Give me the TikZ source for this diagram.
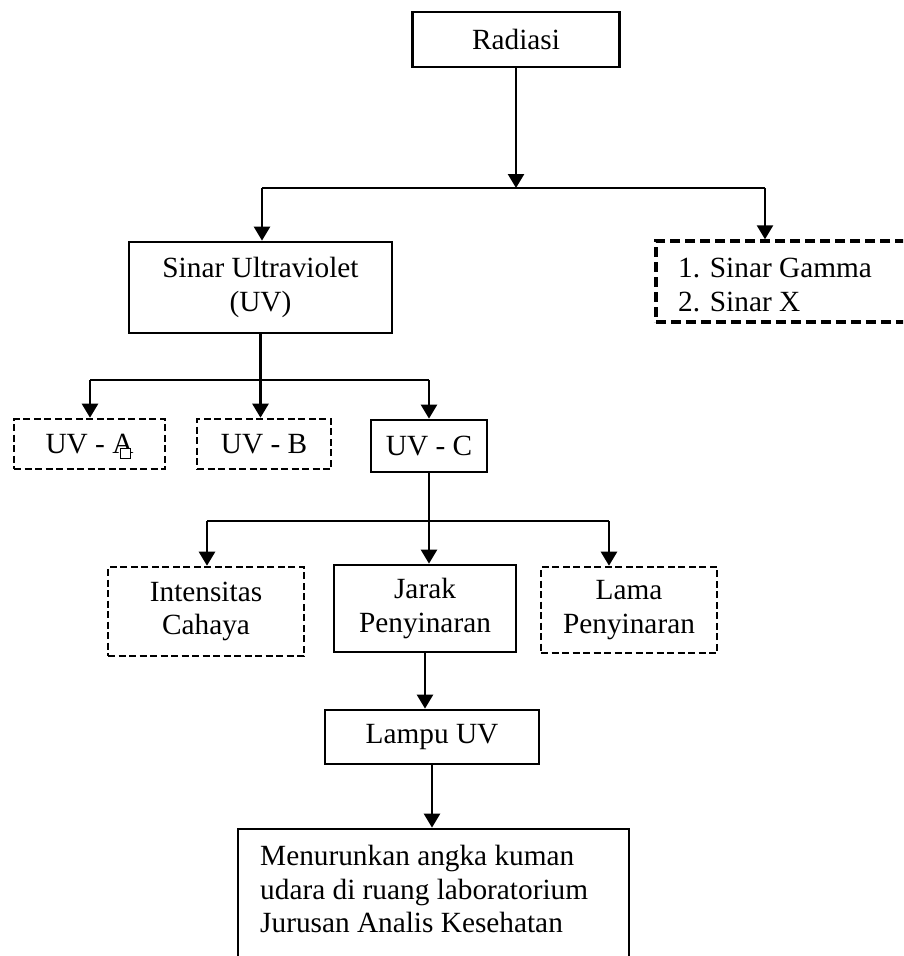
\documentclass[tikz,border=0pt]{standalone}
\usepackage{fontspec}
\setmainfont{Liberation Serif}
\usetikzlibrary{arrows.meta}
\newcommand\dfont{\fontsize{29.3}{33.5}\selectfont}
\begin{document}
\begin{tikzpicture}[x=1pt,y=-1pt,
  box/.style={draw,line width=2.8pt,align=center,inner sep=0pt,font=\dfont},
  dbox/.style={draw,line width=2.6pt,dash pattern=on 7pt off 3.5pt,align=center,inner sep=0pt,font=\dfont},
  gbox/.style={draw,line width=3.4pt,dash pattern=on 10pt off 5pt,inner sep=0pt},
  txt/.style={align=left,inner sep=0pt,font=\dfont},
  conn/.style={line width=2.5pt},
  arr/.style={conn,-{Triangle[width=16pt,length=14pt]}}]
\useasboundingbox (0,0) rectangle (903,956);

\node[box,minimum width=207pt,minimum height=55pt] (rad) at (516,39.5) {Radiasi};
\node[box,minimum width=263pt,minimum height=91pt] (uv) at (260.5,287.5) {Sinar Ultraviolet\\(UV)};

\begin{scope}
\clip (0,0) rectangle (903,956);
\node[gbox,minimum width=264pt,minimum height=81pt] (gam) at (788,281.5) {};
\node[box,minimum width=391pt,minimum height=160pt] (last) at (433.5,909) {};
\end{scope}
\node[txt,anchor=north west] (gamtxt) at (678,258) {1. Sinar Gamma\\2. Sinar X};
\node[txt,anchor=north west] (lasttxt) at (260,845) {Menurunkan angka kuman\\udara di ruang laboratorium\\Jurusan Analis Kesehatan};

\node[dbox,minimum width=151pt,minimum height=50pt] (uva) at (89.5,444) {UV - A};
\node[dbox,minimum width=134pt,minimum height=50pt] (uvb) at (264,444) {UV - B};
\node[box,minimum width=116pt,minimum height=52pt] (uvc) at (429,446) {UV - C};
\draw[line width=0.9pt,fill=white] (120,448) rectangle (130,458);

\node[dbox,minimum width=196pt,minimum height=89pt] (int) at (206,611.5) {Intensitas\\Cahaya};
\node[box,minimum width=182pt,minimum height=87pt] (jar) at (425,608.5) {Jarak\\Penyinaran};
\node[dbox,minimum width=176pt,minimum height=86pt] (lama) at (629,610) {Lama\\Penyinaran};
\node[box,minimum width=214pt,minimum height=54pt] (lamp) at (432,737) {Lampu UV};

\coordinate (hl) at (262,188);
\coordinate (hr) at (765,188);
\coordinate (ml) at (90,380);
\coordinate (mr) at (429,380);
\coordinate (ll) at (207,521);
\coordinate (lr) at (609,521);

\draw[arr] (rad.south) -- (rad.south |- hl);
\draw[conn] (hl) -- (hr);
\draw[arr] (hl) -- (hl |- uv.north);
\draw[arr] (hr) -- (hr |- gam.north);

\draw[arr] (uv.south) -- (uv.south |- uvb.north);
\draw[conn] (ml) -- (mr);
\draw[arr] (ml) -- (ml |- uva.north);
\draw[arr] (mr) -- (mr |- uvc.north);

\draw[arr] (uvc.south) -- (uvc.south |- jar.north);
\draw[conn] (ll) -- (lr);
\draw[arr] (ll) -- (ll |- int.north);
\draw[arr] (lr) -- (lr |- lama.north);

\draw[arr] (jar.south) -- (jar.south |- lamp.north);
\draw[arr] (lamp.south) -- (lamp.south |- last.north);
\end{tikzpicture}
\end{document}
